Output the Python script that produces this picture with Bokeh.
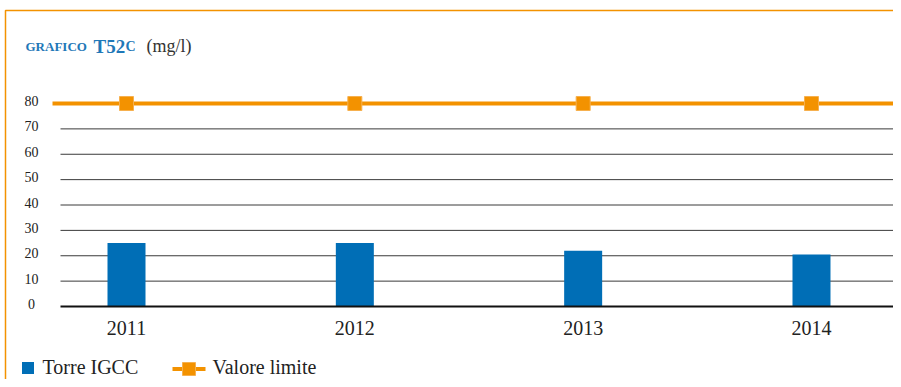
from bokeh.plotting import figure
from bokeh.models import Range1d
from bokeh.core.properties import value
from bokeh.embed import file_html
from bokeh.resources import INLINE

# ---- data ----
years = ["2011", "2012", "2013", "2014"]
torre_igcc = [25, 25, 22, 20.5]
valore_limite = [80, 80, 80, 80]
y_ticks = [0, 10, 20, 30, 40, 50, 60, 70, 80]
title_parts = ["GRAFICO", "T52", "C", "(mg/l)"]
legend_labels = ["Torre IGCC", "Valore limite"]

BLUE = "#006EB6"
TBLUE = "#1F78B8"
ORANGE = "#F39200"
FONT = value("Liberation Serif")

W, H = 893, 379
# pixel -> data helpers
PX_PER_CAT = 228.33
X0_PX = 126.0
Y0_PX = 306.0
PX_PER_UNIT = 2.5375


def xd(wx):
    return (wx - X0_PX) / PX_PER_CAT


def yd(wy):
    return (Y0_PX - wy) / PX_PER_UNIT


p = figure(width=W, height=H, output_backend="svg", toolbar_location=None,
           x_axis_location=None, y_axis_location=None,
           x_range=Range1d(xd(0), xd(W)), y_range=Range1d(yd(H), yd(0)),
           min_border=0, min_border_left=0, min_border_right=0,
           min_border_top=0, min_border_bottom=0)
p.grid.visible = False
p.outline_line_color = None
p.background_fill_color = "white"
p.border_fill_color = "white"

idx = list(range(len(years)))

# frame border (orange)
p.line(x=[xd(5), xd(5), xd(W + 5)], y=[yd(H + 5), yd(10), yd(10)],
       line_color=ORANGE, line_width=1.5)

# gridlines
grid_vals = y_ticks[1:-1]
p.segment(x0=[xd(60)] * len(grid_vals), x1=[xd(893)] * len(grid_vals),
          y0=grid_vals, y1=grid_vals, line_color="#3a3a3a", line_width=1)

# bars
p.vbar(x=idx, top=torre_igcc, bottom=0, width=38 / PX_PER_CAT,
       fill_color=BLUE, line_color=None)

# zero line
p.segment(x0=[xd(60)], x1=[xd(893)], y0=[y_ticks[0]], y1=[y_ticks[0]],
          line_color="#111111", line_width=2)

# limit line
lx = [xd(52)] + idx + [xd(893)]
ly = [valore_limite[0]] + valore_limite + [valore_limite[-1]]
p.line(x=lx, y=ly, line_color=ORANGE, line_width=4)
p.scatter(x=idx, y=valore_limite, marker="square", size=14,
          fill_color=ORANGE, line_color="#F6B04E", line_width=1)

# y tick labels
p.text(x=[xd(31)] * len(y_ticks), y=y_ticks, text=[str(v) for v in y_ticks],
       text_align="center", text_baseline="middle", text_font=FONT,
       text_font_size="14px", text_color="#222222", y_offset=-2.5)

# x labels
p.text(x=idx, y=[yd(327)] * len(years), text=years,
       text_align="center", text_baseline="middle", text_font=FONT,
       text_font_size="20px", text_color="#222222")

# title
ty = yd(45.5)
p.text(x=[xd(25)], y=[ty], text=[title_parts[0]], text_font=FONT,
       text_font_style="bold", text_font_size="13px", text_color=TBLUE,
       text_baseline="alphabetic")
p.text(x=[xd(93)], y=[ty], text=[title_parts[1]], text_font=FONT,
       text_font_style="bold", text_font_size="19px", text_color=TBLUE,
       text_baseline="alphabetic")
p.text(x=[xd(125)], y=[ty], text=[title_parts[2]], text_font=FONT,
       text_font_style="bold", text_font_size="14px", text_color=TBLUE,
       text_baseline="alphabetic")
p.text(x=[xd(146)], y=[ty], text=[title_parts[3]], text_font=FONT,
       text_font_size="18px", text_color="#333333",
       text_baseline="alphabetic")

# legend
p.scatter(x=[xd(27.5)], y=[yd(367.5)], marker="square", size=12,
          fill_color=BLUE, line_color=None)
p.text(x=[xd(42)], y=[yd(366)], text=[legend_labels[0]], text_font=FONT,
       text_font_size="20px", text_color="#222222", text_baseline="middle")
p.segment(x0=[xd(172)], x1=[xd(205)], y0=[yd(368.5)], y1=[yd(368.5)],
          line_color=ORANGE, line_width=4)
p.scatter(x=[xd(188.5)], y=[yd(368.5)], marker="square", size=13,
          fill_color=ORANGE, line_color="#F6B04E", line_width=1)
p.text(x=[xd(212)], y=[yd(366)], text=[legend_labels[1]], text_font=FONT,
       text_font_size="20px", text_color="#222222", text_baseline="middle")

open("out.html", "w").write(file_html(p, INLINE))
